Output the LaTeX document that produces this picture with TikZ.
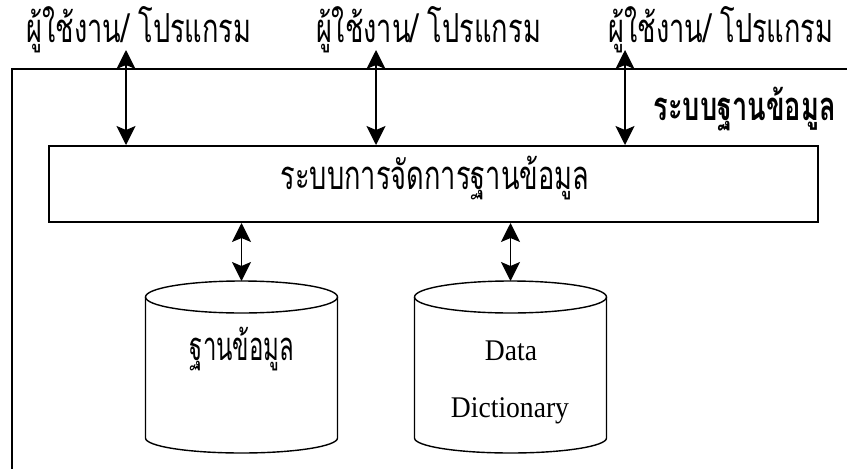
\documentclass[tikz,border=0pt]{standalone}
\usepackage{fontspec}
\setmainfont{Liberation Serif}
\newfontfamily\thaifont[Script=Thai,FakeStretch=0.68]{Loma}
\newfontfamily\thaitight[Script=Thai,FakeStretch=0.6]{Loma}
\newfontfamily\latfont[FakeStretch=0.92]{Liberation Serif}
\usetikzlibrary{arrows.meta,calc}
\begin{document}
\begin{tikzpicture}[x=1pt,y=-1pt,
  frameline/.style={line width=2pt},
  biarrow/.style={line width=1.4pt,{Stealth[length=19pt,width=19pt,inset=4pt]}-{Stealth[length=19pt,width=19pt,inset=4pt]}},
  thailbl/.style={font=\thaifont\fontsize{40}{44}\selectfont, inner sep=0pt, anchor=base},
  latlbl/.style={font=\latfont\fontsize{30}{34}\selectfont, inner sep=0pt, anchor=base},
  dbline/.style={line width=1.4pt}]
\useasboundingbox (0,0) rectangle (847,469);
% outer frame
\coordinate (ftl) at (12,69);
\coordinate (fbl) at (12,469);
\coordinate (ftr) at (847,69);
\draw[frameline] (fbl) -- (ftl) -- (ftr);
% users
\node[thailbl] (u1) at (139,42) {ผู้ใช้งาน/ โปรแกรม};
\node[thailbl] (u2) at (428.5,42) {ผู้ใช้งาน/ โปรแกรม};
\node[thailbl] (u3) at (721,42) {ผู้ใช้งาน/ โปรแกรม};
\node[thailbl, font=\thaifont\bfseries\fontsize{40}{44}\selectfont, anchor=base east] (sys) at (836,120) {ระบบฐานข้อมูล};
% DBMS box
\node[draw, line width=2pt, minimum width=769pt, minimum height=76pt, inner sep=0pt] (dbms) at (433.5,184) {};
\node[thailbl] (dbmst) at (435,189) {ระบบการจัดการฐานข้อมูล};
% arrows users <-> dbms
\coordinate (a1t) at (126,50);
\coordinate (a2t) at (376,50);
\coordinate (a3t) at (625,50);
\draw[biarrow] (a1t) -- (a1t |- dbms.north);
\draw[biarrow] (a2t) -- (a2t |- dbms.north);
\draw[biarrow] (a3t) -- (a3t |- dbms.north);
% cylinders
\coordinate (c1) at (241.5,297);
\coordinate (c2) at (510.5,297);
\foreach \c in {c1,c2}{
  \draw[dbline] (\c) ellipse [x radius=96pt, y radius=16pt];
  \draw[dbline] ($(\c)+(-96,0)$) -- ++(0,141) arc [start angle=180, end angle=360, x radius=96pt, y radius=15pt] -- ++(0,-141);
}
\coordinate (c1top) at (241.5,281);
\coordinate (c2top) at (510.5,281);
\draw[biarrow] (c1top |- dbms.south) -- (c1top);
\draw[biarrow] (c2top |- dbms.south) -- (c2top);
\node[thailbl, font=\thaitight\fontsize{40}{44}\selectfont] (db) at (242,360) {ฐานข้อมูล};
\node[latlbl] (dd1) at (511,360) {Data};
\node[latlbl] (dd2) at (510,417) {Dictionary};
\end{tikzpicture}
\end{document}
